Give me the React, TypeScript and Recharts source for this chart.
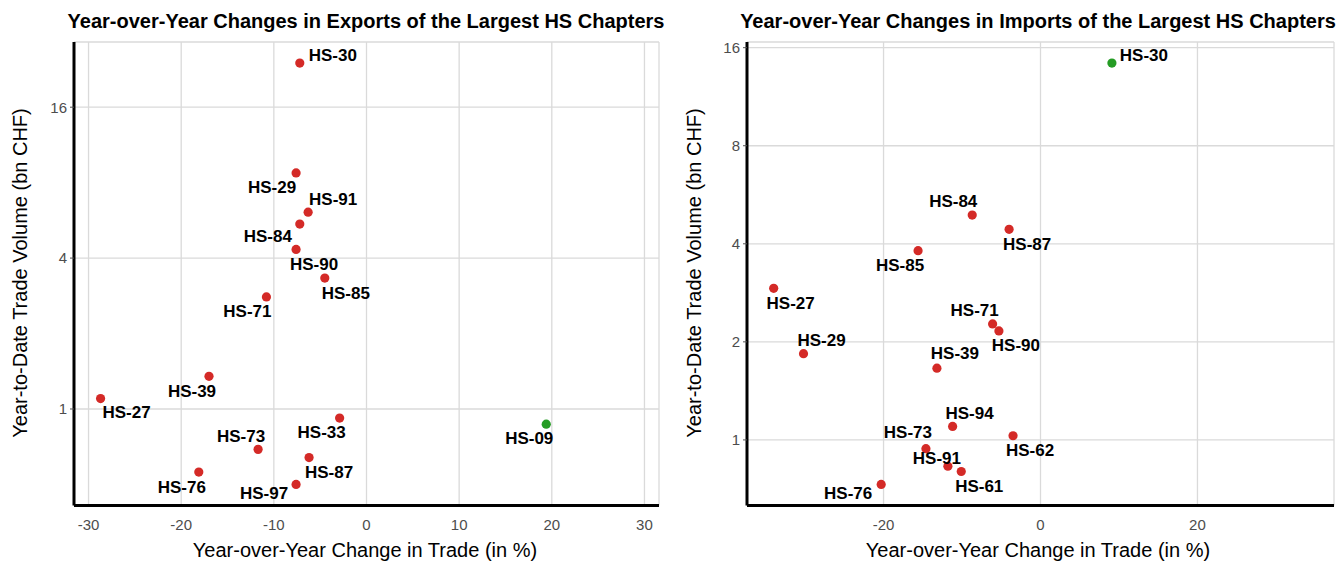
import React from 'react';
import {
  ScatterChart,
  Scatter,
  XAxis,
  YAxis,
  CartesianGrid
} from 'recharts';

// exports panel
const exportCodes = ['HS-30', 'HS-29', 'HS-91', 'HS-84', 'HS-90', 'HS-85', 'HS-71', 'HS-39', 'HS-27', 'HS-33', 'HS-09', 'HS-73', 'HS-87', 'HS-76', 'HS-97'];
const exportChange = [-7.2, -7.6, -6.3, -7.2, -7.6, -4.5, -10.8, -17.0, -28.7, -2.9, 19.4, -11.7, -6.2, -18.1, -7.6];
const exportVolume = [24.0, 8.75, 6.1, 5.47, 4.33, 3.33, 2.8, 1.35, 1.1, 0.92, 0.87, 0.69, 0.64, 0.56, 0.5];
const exportXTicks = [-30, -20, -10, 0, 10, 20, 30];
const exportYTicks = [1, 4, 16];

// imports panel
const importCodes = ['HS-30', 'HS-84', 'HS-87', 'HS-85', 'HS-27', 'HS-71', 'HS-90', 'HS-29', 'HS-39', 'HS-94', 'HS-62', 'HS-73', 'HS-91', 'HS-61', 'HS-76'];
const importChange = [9.1, -8.7, -4.0, -15.6, -34.0, -6.1, -5.3, -30.2, -13.2, -11.2, -3.5, -14.6, -11.8, -10.1, -20.3];
const importVolume = [14.35, 4.9, 4.43, 3.81, 2.92, 2.27, 2.16, 1.84, 1.66, 1.1, 1.03, 0.94, 0.83, 0.8, 0.73];
const importXTicks = [-20, 0, 20];
const importYTicks = [1, 2, 4, 8, 16];

// where each label sits relative to its dot (repel-style placement)
const exportLabelOffsets: Record<string, [number, number]> = {
  'HS-30': [33, -8], 'HS-29': [-24, 15], 'HS-91': [25, -13], 'HS-84': [-32, 12],
  'HS-90': [18, 15], 'HS-85': [21, 15], 'HS-71': [-19, 15], 'HS-39': [-17, 15],
  'HS-27': [26, 14], 'HS-33': [-18, 14], 'HS-09': [-17, 14], 'HS-73': [-17, -13],
  'HS-87': [20, 15], 'HS-76': [-17, 15], 'HS-97': [-32, 9]
};
const importLabelOffsets: Record<string, [number, number]> = {
  'HS-30': [32, -8], 'HS-84': [-19, -14], 'HS-87': [18, 15], 'HS-85': [-18, 15],
  'HS-27': [17, 15], 'HS-71': [-18, -13], 'HS-90': [17, 15], 'HS-29': [18, -13],
  'HS-39': [18, -15], 'HS-94': [17, -13], 'HS-62': [17, 15], 'HS-73': [-18, -16],
  'HS-91': [-11, -8], 'HS-61': [18, 15], 'HS-76': [-33, 9]
};

const FONT = '"Liberation Sans", Arial, Helvetica, sans-serif';
const RED = '#d42a27';
const GREEN = '#259c24';

interface PanelProps {
  codes: string[];
  change: number[];
  volume: number[];
  xTicks: number[];
  yTicks: number[];
  offsets: Record<string, [number, number]>;
  width: number;
  yAxisWidth: number;
  marginRight: number;
}

const Panel: React.FC<PanelProps> = ({ codes, change, volume, xTicks, yTicks, offsets, width, yAxisWidth, marginRight }) => {
  const data = codes.map((code, i) => ({ code, change: change[i], volume: volume[i] }));

  // symmetric x limits, 5% expansion
  const maxAbs = Math.max(...change.map((v) => Math.abs(v)));
  const xDomain = [-maxAbs * 1.1, maxAbs * 1.1];
  // log2 limits, 5% expansion
  const logs = volume.map((v) => Math.log2(v));
  const lMin = Math.min(...logs);
  const lMax = Math.max(...logs);
  const pad = (lMax - lMin) * 0.05;
  const yDomain = [Math.pow(2, lMin - pad), Math.pow(2, lMax + pad)];

  const renderDot = (props: any) => {
    const { cx, cy, payload } = props;
    const off = offsets[payload.code] || [0, 14];
    return (
      <g>
        <circle cx={cx} cy={cy} r={4.6} fill={payload.change > 0 ? GREEN : RED} />
        <text
          x={cx + off[0]}
          y={cy + off[1]}
          textAnchor="middle"
          dominantBaseline="central"
          fontFamily={FONT}
          fontWeight="bold"
          fontSize={17}
          fill="#000"
        >
          {payload.code}
        </text>
      </g>
    );
  };

  return (
    <ScatterChart
      width={width}
      height={563}
      margin={{ top: 42, right: marginRight, bottom: 27.5, left: 0 }}
      style={{ fontFamily: FONT }}
    >
      <CartesianGrid stroke="#dadada" strokeWidth={1.3} />
      <XAxis
        type="number"
        dataKey="change"
        domain={xDomain}
        ticks={xTicks}
        allowDataOverflow
        height={30}
        axisLine={{ stroke: '#000', strokeWidth: 3 }}
        tickLine={false}
        tickMargin={8}
        tick={{ fill: '#4d4d4d', fontSize: 15 }}
      />
      <YAxis
        type="number"
        dataKey="volume"
        scale="log"
        domain={yDomain}
        ticks={yTicks}
        allowDataOverflow
        width={yAxisWidth}
        axisLine={{ stroke: '#000', strokeWidth: 3 }}
        tickLine={{ stroke: '#555' }}
        tickSize={4}
        tickMargin={3}
        tick={{ fill: '#4d4d4d', fontSize: 15 }}
      />
      <Scatter data={data} isAnimationActive={false} shape={renderDot} />
    </ScatterChart>
  );
};

const textBase: React.CSSProperties = {
  position: 'absolute',
  fontFamily: FONT,
  whiteSpace: 'nowrap',
  transform: 'translate(-50%, -50%)',
  color: '#000'
};

const App: React.FC = () => {
  return (
    <div style={{ position: 'absolute', left: 0, top: 0, width: 1339, height: 563, background: '#fff', overflow: 'hidden' }}>
      <div style={{ position: 'absolute', left: 0, top: 0 }}>
        <Panel
          codes={exportCodes}
          change={exportChange}
          volume={exportVolume}
          xTicks={exportXTicks}
          yTicks={exportYTicks}
          offsets={exportLabelOffsets}
          width={670}
          yAxisWidth={74}
          marginRight={11}
        />
      </div>
      <div style={{ position: 'absolute', left: 670, top: 0 }}>
        <Panel
          codes={importCodes}
          change={importChange}
          volume={importVolume}
          xTicks={importXTicks}
          yTicks={importYTicks}
          offsets={importLabelOffsets}
          width={669}
          yAxisWidth={77}
          marginRight={5}
        />
      </div>

      <div style={{ ...textBase, left: 366, top: 21, fontSize: 20, fontWeight: 'bold' }}>
        Year-over-Year Changes in Exports of the Largest HS Chapters
      </div>
      <div style={{ ...textBase, left: 1038, top: 21, fontSize: 20, fontWeight: 'bold' }}>
        Year-over-Year Changes in Imports of the Largest HS Chapters
      </div>

      <div style={{ ...textBase, left: 365, top: 550, fontSize: 20 }}>
        Year-over-Year Change in Trade (in %)
      </div>
      <div style={{ ...textBase, left: 1038, top: 550, fontSize: 20 }}>
        Year-over-Year Change in Trade (in %)
      </div>

      <div style={{ ...textBase, left: 20, top: 273, fontSize: 20, transform: 'translate(-50%, -50%) rotate(-90deg)' }}>
        Year-to-Date Trade Volume (bn CHF)
      </div>
      <div style={{ ...textBase, left: 694, top: 273, fontSize: 20, transform: 'translate(-50%, -50%) rotate(-90deg)' }}>
        Year-to-Date Trade Volume (bn CHF)
      </div>
    </div>
  );
};

export default App;
